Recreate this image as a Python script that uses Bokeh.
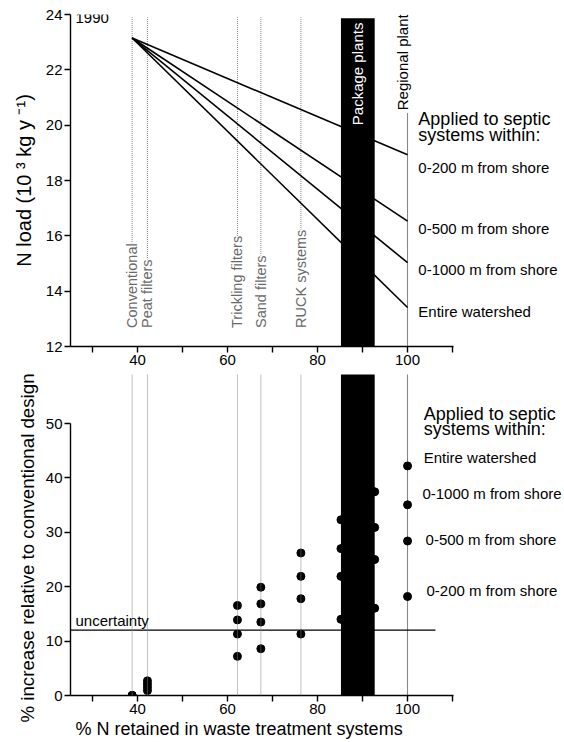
from bokeh.plotting import figure
from bokeh.layouts import column
from bokeh.models import Range1d, FixedTicker, BoxAnnotation, Span, Label, Title
from bokeh.embed import file_html
from bokeh.resources import INLINE

FONT = "Liberation Sans"

# ---------------- data ----------------
tech_names = ["Conventional", "Peat filters", "Trickling filters", "Sand filters", "RUCK systems"]
tech_retention = [38.8, 42.2, 62.2, 67.4, 76.3]          # % N retained
package_name = "Package plants"
package_range = [85.2, 92.7]                              # % N retained
regional_name = "Regional plant"
regional_retention = 100

scopes = ["Entire watershed", "0-1000 m from shore", "0-500 m from shore", "0-200 m from shore"]

# top panel: N load (10^3 kg/y) from conventional (1990) to regional plant
load_x = [38.8, 100]
load_entire = [23.15, 13.41]
load_1000 = [23.15, 15.03]
load_500 = [23.15, 16.53]
load_200 = [23.15, 18.93]

# bottom panel: % increase relative to conventional design
inc_x = [38.8, 42.2, 62.2, 67.4, 76.3, 85.2, 92.7, 100]
inc_entire = [0, 2.7, 16.55, 19.9, 26.2, 32.3, 37.45, 42.2]
inc_1000 = [0, 2.1, 13.9, 16.85, 21.9, 27.0, 30.9, 35.05]
inc_500 = [0, 1.5, 11.3, 13.5, 17.8, 21.9, 25.0, 28.4]
inc_200 = [0, 0.9, 7.2, 8.6, 11.3, 14.0, 16.05, 18.2]
uncertainty = 12

x_ticks = [40, 60, 80, 100]
x_minor = [30, 50, 70, 90, 110]
top_yticks = [12, 14, 16, 18, 20, 22, 24]
bot_yticks = [0, 10, 20, 30, 40, 50]

# ---------------- layout ----------------
W = 564
BL = 70
PX_PER_X = 4.5
X0 = 25.1
X_AXIS_END = 110.3
x_range = Range1d(X0, X0 + (W - BL) / PX_PER_X)

TOP_BT, TOP_FRAME, TOP_BB = 14, 332, 28
TOP_H = TOP_BT + TOP_FRAME + TOP_BB
BOT_H = 742 - TOP_H
BOT_BB = 47

GRAY = "#6a6a6a"
DOT_GRAY = "#808080"


def style_axis(ax):
    ax.axis_line_width = 1.4
    ax.axis_line_color = "black"
    ax.major_tick_line_width = 1.4
    ax.minor_tick_line_width = 1.4
    ax.major_tick_out = 6
    ax.major_tick_in = 0
    ax.minor_tick_out = 6
    ax.minor_tick_in = 0
    ax.major_label_text_font = FONT
    ax.major_label_text_font_size = "15px"
    ax.major_label_text_color = "black"
    ax.major_label_standoff = 2
    ax.axis_label_text_font = FONT
    ax.axis_label_text_font_style = "normal"
    ax.axis_label_text_color = "black"


# ---------------- top panel ----------------
top = figure(width=W, height=TOP_H, x_range=x_range, y_range=Range1d(12, 24),
             output_backend="svg", toolbar_location=None,
             min_border_left=BL, min_border_right=0,
             min_border_top=TOP_BT, min_border_bottom=TOP_BB)
top.grid.visible = False
top.outline_line_color = None

style_axis(top.xaxis[0])
top.xaxis[0].ticker = FixedTicker(ticks=x_ticks, minor_ticks=x_minor)
top.xaxis[0].bounds = (X0, X_AXIS_END)
style_axis(top.yaxis[0])
top.yaxis[0].ticker = FixedTicker(ticks=top_yticks, minor_ticks=[])
top.yaxis[0].axis_label = "N load (10 \u00b3 kg y \u207b\u00b9)"
top.yaxis[0].axis_label_text_font_size = "20px"
top.yaxis[0].axis_label_standoff = 8

label_base_top = 12.67
line_top = 23.9
top.segment(x0=tech_retention, x1=tech_retention, y0=[label_base_top] * len(tech_retention),
            y1=[line_top] * len(tech_retention), line_color=DOT_GRAY, line_dash="1 1", line_width=1)
regional_base = 20.54
top.segment(x0=[regional_retention], x1=[regional_retention], y0=[12], y1=[regional_base - 0.1],
            line_color="black", line_dash="1 1", line_width=1)

# dotted guides continuing through the gap between the panels
for tx, col in list(zip(tech_retention, [DOT_GRAY] * len(tech_retention))) + [(regional_retention, "black")]:
    top.add_layout(BoxAnnotation(left=tx, right=tx, top=11.95, bottom=-60, fill_alpha=0,
                                 line_color=col, line_dash="1 1", line_width=1))

for nm, tx in zip(tech_names, tech_retention):
    top.add_layout(Label(x=tx, y=label_base_top, text=nm, angle=90, angle_units="deg",
                         text_align="left", text_baseline="middle", text_font=FONT,
                         text_font_size="14.5px", text_color=GRAY,
                         background_fill_color="white", background_fill_alpha=1.0))

for series in [load_entire, load_1000, load_500, load_200]:
    top.line(load_x, series, line_color="black", line_width=1.6)

top.add_layout(BoxAnnotation(left=package_range[0], right=package_range[1], top=23.86, bottom=-60,
                             fill_color="black", fill_alpha=1.0, line_color=None))
top.add_layout(Label(x=sum(package_range) / 2, y=20.0, text=package_name, angle=90, angle_units="deg",
                     text_align="left", text_baseline="middle", text_font=FONT,
                     text_font_size="15px", text_color="white"))
top.add_layout(Label(x=98.8, y=regional_base, text=regional_name, angle=90, angle_units="deg",
                     text_align="left", text_baseline="middle", text_font=FONT,
                     text_font_size="15px", text_color="black"))
top.add_layout(Label(x=26.2, y=23.86, text="1990", text_align="left", text_baseline="middle",
                     text_font=FONT, text_font_size="15px", text_color="black"))

top_right = [("Applied to septic", 20.21, "18px"), ("systems within:", 19.63, "18px"),
             (scopes[3], 18.48, "15px"), (scopes[2], 16.28, "15px"),
             (scopes[1], 14.80, "15px"), (scopes[0], 13.25, "15px")]
for txt, yy, fs in top_right:
    top.add_layout(Label(x=102.4, y=yy, text=txt, text_align="left", text_baseline="middle",
                         text_font=FONT, text_font_size=fs, text_color="black"))

# ---------------- bottom panel ----------------
frame_h = BOT_H - BOT_BB
px50 = 423 - TOP_H  # canvas y of value 50
y_max = 50 * frame_h / (frame_h - px50)

bot = figure(width=W, height=BOT_H, x_range=x_range, y_range=Range1d(0, y_max),
             output_backend="svg", toolbar_location=None,
             min_border_left=BL, min_border_right=0,
             min_border_top=0, min_border_bottom=BOT_BB)
bot.grid.visible = False
bot.outline_line_color = None

style_axis(bot.xaxis[0])
bot.xaxis[0].ticker = FixedTicker(ticks=x_ticks, minor_ticks=x_minor)
bot.xaxis[0].bounds = (X0, X_AXIS_END)
style_axis(bot.yaxis[0])
bot.yaxis[0].ticker = FixedTicker(ticks=bot_yticks, minor_ticks=[])
bot.yaxis[0].bounds = (0, 50)

bot.add_layout(Title(text="% N retained in waste treatment systems", align="left", offset=5,
                     standoff=0, text_font=FONT, text_font_size="18px",
                     text_font_style="normal", text_color="black"), "below")
bot.add_layout(Title(text="% increase relative to conventional design", align="left", offset=-27,
                     standoff=10, text_font=FONT, text_font_size="18.7px",
                     text_font_style="normal", text_color="black"), "left")

for tx in tech_retention:
    bot.add_layout(Span(location=tx, dimension="height", line_color=DOT_GRAY, line_dash="1 1", line_width=1))
bot.add_layout(Span(location=regional_retention, dimension="height", line_color="black",
                    line_dash="1 1", line_width=1))

bot.segment(x0=[X0], x1=[106.2], y0=[uncertainty], y1=[uncertainty],
            line_color="black", line_width=1.2)
bot.add_layout(Label(x=26.2, y=uncertainty, y_offset=1, text="uncertainty", text_align="left",
                     text_baseline="bottom", text_font=FONT, text_font_size="15px", text_color="black"))

for series in [inc_entire, inc_1000, inc_500, inc_200]:
    bot.scatter(inc_x, series, size=8, fill_color="black", line_color="black", marker="circle")

bot.add_layout(BoxAnnotation(left=package_range[0], right=package_range[1], bottom=0, top=y_max + 5,
                             fill_color="black", fill_alpha=1.0, line_color=None))

bot_right = [("Applied to septic", 51.8, "18px", 103.6), ("systems within:", 48.9, "18px", 103.6),
             (scopes[0], 43.75, "15px", 103.6), (scopes[1], 37.1, "15px", 103.3),
             (scopes[2], 28.7, "15px", 104.0), (scopes[3], 19.3, "15px", 104.2)]
for txt, yy, fs, xx in bot_right:
    bot.add_layout(Label(x=xx, y=yy, text=txt, text_align="left", text_baseline="middle",
                         text_font=FONT, text_font_size=fs, text_color="black"))

layout = column(top, bot, spacing=0)
open("out.html", "w").write(file_html(layout, INLINE))
